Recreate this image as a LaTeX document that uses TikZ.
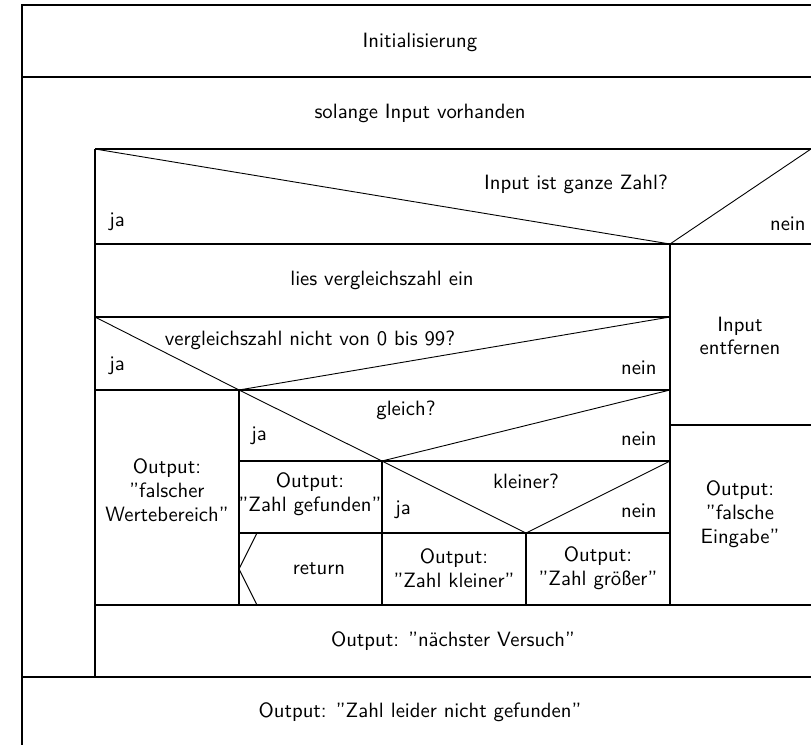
\documentclass[tikz,border=0pt]{standalone}
\usepackage{fontspec}
\begin{document}
\begin{tikzpicture}[x=0.5pt,y=-0.5pt,
  box/.style={line width=0.75pt},
  diag/.style={line width=0.45pt},
  txt/.style={font=\fontsize{10.35}{11.9}\selectfont\sffamily, align=center, inner sep=0pt}]
\useasboundingbox (0,0) rectangle (811,745);
% outer frame
\draw[box] (22,745) -- (22,5) -- (811,5);
\draw[box] (22,77) -- (811,77);
\draw[box] (95,149) -- (811,149);
\draw[box] (95,149) -- (95,677);
\draw[box] (22,677) -- (811,677);
\draw[box] (95,605) -- (811,605);
% if input ganze Zahl
\draw[diag] (95,149) -- (670,244) -- (811,149);
\draw[box] (95,244) -- (811,244);
\draw[box] (670,244) -- (670,605);
\draw[box] (670,425) -- (811,425);
% lies vergleichszahl
\draw[box] (95,317) -- (670,317);
\draw[diag] (95,317) -- (239,390) -- (670,317);
\draw[box] (95,390) -- (670,390);
\draw[box] (239,390) -- (239,605);
% gleich
\draw[diag] (239,390) -- (382,461) -- (670,390);
\draw[box] (239,461) -- (670,461);
\draw[box] (382,461) -- (382,605);
% kleiner
\draw[diag] (382,461) -- (526,533) -- (670,461);
\draw[box] (239,533) -- (670,533);
\draw[box] (526,533) -- (526,605);
% return
\draw[diag] (257,533) -- (239,569) -- (257,605);
% texts
\node[txt] (init) at (420,42) {Initialisierung};
\node[txt] (loop) at (420,113) {solange Input vorhanden};
\node[txt] (c1) at (576,184) {Input ist ganze Zahl?};
\node[txt,anchor=west] (c1ja) at (109,222) {ja};
\node[txt,anchor=east] (c1nein) at (806,224) {nein};
\node[txt] (lies) at (382,280) {lies vergleichszahl ein};
\node[txt] (c2) at (310,340) {vergleichszahl nicht von 0 bis 99?};
\node[txt,anchor=west] (c2ja) at (109,366) {ja};
\node[txt,anchor=east] (c2nein) at (657,368) {nein};
\node[txt] (c3) at (406,410) {gleich?};
\node[txt,anchor=west] (c3ja) at (251,436) {ja};
\node[txt,anchor=east] (c3nein) at (657,439) {nein};
\node[txt] (c4) at (526,481) {kleiner?};
\node[txt,anchor=west] (c4ja) at (395,510) {ja};
\node[txt,anchor=east] (c4nein) at (657,511) {nein};
\node[txt] (wert) at (167,490) {Output:\\"falscher\\Wertebereich"};
\node[txt] (gef) at (310,494) {Output:\\"Zahl gefunden"};
\node[txt] (ret) at (319,569) {return};
\node[txt] (klein) at (454,568) {Output:\\"Zahl kleiner"};
\node[txt] (gross) at (598,568) {Output:\\"Zahl größer"};
\node[txt] (entf) at (740,336) {Input\\entfernen};
\node[txt] (eing) at (740,514) {Output:\\"falsche\\Eingabe"};
\node[txt] (next) at (453,641) {Output: "nächster Versuch"};
\node[txt] (nf) at (420,712) {Output: "Zahl leider nicht gefunden"};
\end{tikzpicture}
\end{document}
